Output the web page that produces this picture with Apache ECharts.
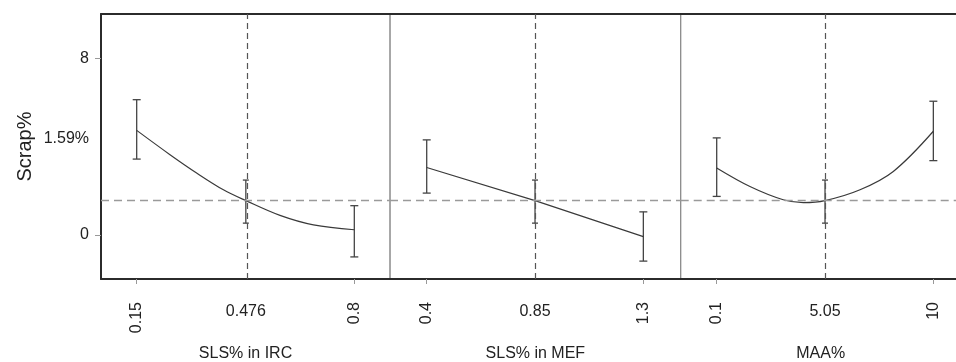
<!DOCTYPE html>
<html>
<head>
<meta charset="utf-8">
<script src="https://cdn.jsdelivr.net/npm/echarts@6/dist/echarts.min.js"></script>
<style>
  html, body { margin: 0; padding: 0; background: #fff; }
  #main { width: 956px; height: 362px; }
</style>
</head>
<body>
<div id="main"></div>
<script>
// y axis (shared by the three panels)
const yTickValues = [0, 4.35, 8];
const yTickLabels = ['0', '1.59%', '8'];
const yTickMarks = [0, 8];
const currentY = 1.55;

// panel 1: SLS% in IRC
const ircTicks = [0.15, 0.476, 0.8];
const ircCurveX = [0.15, 0.2495, 0.329, 0.409, 0.476, 0.578, 0.678, 0.8];
const ircCurveY = [4.73, 3.63, 2.80, 2.04, 1.55, 0.88, 0.45, 0.23];
const ircErrLow = [3.43, 0.53, -1.0];
const ircErrHigh = [6.12, 2.48, 1.32];

// panel 2: SLS% in MEF
const mefTicks = [0.4, 0.85, 1.3];
const mefCurveX = [0.4, 0.85, 1.3];
const mefCurveY = [3.05, 1.55, -0.08];
const mefErrLow = [1.89, 0.53, -1.19];
const mefErrHigh = [4.30, 2.48, 1.04];

// panel 3: MAA%
const maaTicks = [0.1, 5.05, 10];
const maaCurveX = [0.1, 1.62, 3.14, 4.06, 5.05, 6.65, 8.17, 10];
const maaCurveY = [3.03, 2.19, 1.59, 1.46, 1.55, 2.04, 2.87, 4.69];
const maaErrLow = [1.74, 0.53, 3.36];
const maaErrHigh = [4.39, 2.48, 6.05];

const panels = [
  {name: 'SLS% in IRC', ticks: ircTicks, cx: ircCurveX, cy: ircCurveY, lo: ircErrLow, hi: ircErrHigh,
   min: 0.0434, max: 0.9066, left: 101, width: 289, smooth: 0.35},
  {name: 'SLS% in MEF', ticks: mefTicks, cx: mefCurveX, cy: mefCurveY, lo: mefErrLow, hi: mefErrHigh,
   min: 0.2475, max: 1.4552, left: 390, width: 290.7, smooth: false},
  {name: 'MAA%', ticks: maaTicks, cx: maaCurveX, cy: maaCurveY, lo: maaErrLow, hi: maaErrHigh,
   min: -1.545, max: 11.25, left: 680.7, width: 280, smooth: 0.35}
];

const font = 'Liberation Sans, Arial, sans-serif';
const frameColor = '#2b2b2b';
const inkColor = '#3a3a3a';

let grid = [], xAxis = [], yAxis = [], series = [];

panels.forEach(function (p, i) {
  grid.push({
    left: p.left, top: 14, width: p.width, height: 265,
    outerBoundsMode: 'none', containLabel: false,
    show: true, borderColor: '#8a8a8a', borderWidth: 1
  });
  // main bottom axis: rotated end labels + ticks + title
  xAxis.push({
    type: 'value', gridIndex: i, position: 'bottom', min: p.min, max: p.max,
    name: p.name, nameLocation: 'middle', nameGap: 67,
    nameTextStyle: {fontFamily: font, fontSize: 16, color: '#222'},
    axisLine: {show: true, onZero: false, lineStyle: {color: frameColor, width: 2}},
    axisTick: {show: true, length: 5, customValues: [p.ticks[0], p.ticks[2]], lineStyle: {color: '#999'}},
    axisLabel: {
      show: true, rotate: 90, margin: 23, customValues: [p.ticks[0], p.ticks[2]],
      fontFamily: font, fontSize: 16, color: '#222',
      formatter: function (v) { return String(v); }
    },
    splitLine: {show: false}
  });
  // second bottom axis: horizontal middle label
  xAxis.push({
    type: 'value', gridIndex: i, position: 'bottom', min: p.min, max: p.max,
    axisLine: {show: false, onZero: false}, axisTick: {show: false},
    axisLabel: {
      show: true, margin: 25, customValues: [p.ticks[1]],
      fontFamily: font, fontSize: 16, color: '#222',
      formatter: function (v) { return String(v); }
    },
    splitLine: {show: false}
  });
  // top frame line
  xAxis.push({
    type: 'value', gridIndex: i, position: 'top', min: p.min, max: p.max,
    axisLine: {show: true, onZero: false, lineStyle: {color: frameColor, width: 2}},
    axisTick: {show: false}, axisLabel: {show: false}, splitLine: {show: false}
  });
  yAxis.push({
    type: 'value', gridIndex: i, min: -2, max: 10,
    name: i === 0 ? 'Scrap%' : '', nameLocation: 'middle', nameGap: 66,
    nameTextStyle: {fontFamily: font, fontSize: 20, color: '#222'},
    axisLine: {show: i === 0, onZero: false, lineStyle: {color: frameColor, width: 2}},
    axisTick: {show: i === 0, length: 6, customValues: yTickMarks, lineStyle: {color: '#999'}},
    axisLabel: {
      show: i === 0, margin: 12, customValues: yTickValues,
      fontFamily: font, fontSize: 16, color: '#222',
      formatter: function (v) { return yTickLabels[yTickValues.indexOf(v)]; }
    },
    splitLine: {show: false}
  });

  series.push({
    type: 'line', xAxisIndex: i * 3, yAxisIndex: i,
    data: p.cx.map(function (x, k) { return [x, p.cy[k]]; }),
    smooth: p.smooth, showSymbol: false, silent: true,
    lineStyle: {color: inkColor, width: 1.2},
    markLine: {
      silent: true, symbol: 'none', label: {show: false},
      data: [
        {yAxis: currentY, lineStyle: {color: '#9a9a9a', type: [8, 5], width: 1.3}},
        {xAxis: p.ticks[1], lineStyle: {color: '#555', type: [6, 4], width: 1.2}}
      ]
    }
  });
  series.push({
    type: 'custom', xAxisIndex: i * 3, yAxisIndex: i, silent: true,
    data: p.ticks.map(function (x, k) { return [x, p.lo[k], p.hi[k]]; }),
    encode: {x: 0, y: [1, 2]},
    renderItem: function (params, api) {
      const x = api.value(0);
      const a = api.coord([x, api.value(1)]);
      const b = api.coord([x, api.value(2)]);
      const w = params.dataIndex === 1 ? 3 : 4;
      const st = {stroke: '#444', lineWidth: 1.3};
      return {
        type: 'group',
        children: [
          {type: 'line', shape: {x1: a[0], y1: a[1], x2: b[0], y2: b[1]}, style: st},
          {type: 'line', shape: {x1: a[0] - w, y1: a[1], x2: a[0] + w, y2: a[1]}, style: st},
          {type: 'line', shape: {x1: b[0] - w, y1: b[1], x2: b[0] + w, y2: b[1]}, style: st}
        ]
      };
    }
  });
});

const chart = echarts.init(document.getElementById('main'));
chart.setOption({
  animation: false,
  backgroundColor: '#fff',
  grid: grid,
  xAxis: xAxis,
  yAxis: yAxis,
  series: series
});
</script>
</body>
</html>
